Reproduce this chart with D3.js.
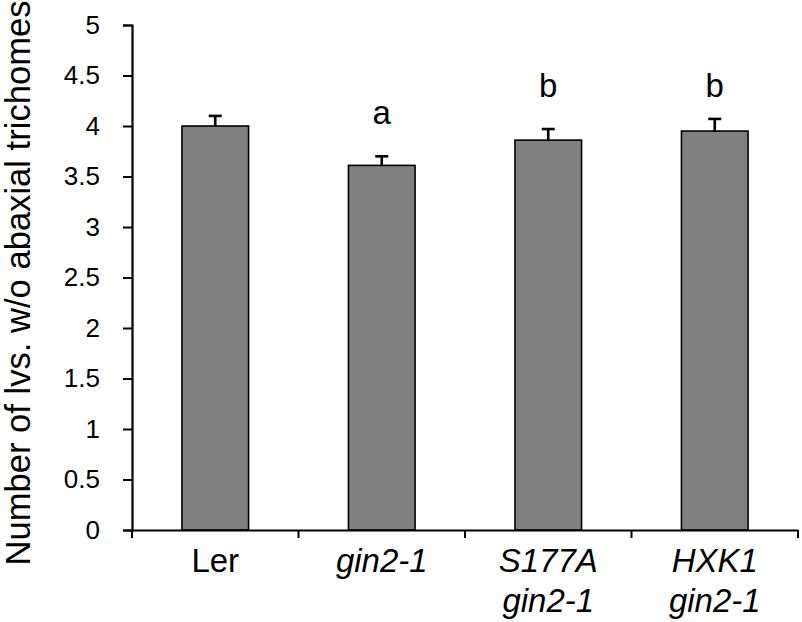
<!DOCTYPE html>
<html>
<head>
<meta charset="utf-8">
<script src="https://cdn.jsdelivr.net/npm/d3@7/dist/d3.min.js"></script>
<style>
  html, body { margin: 0; padding: 0; background: #fff; }
  svg { display: block; }
  text { font-family: "Liberation Sans", Arial, sans-serif; fill: #000; }
</style>
</head>
<body>
<script>
// ---- data ----
const categories = ["Ler", "gin2-1", "S177A gin2-1", "HXK1 gin2-1"];
const labelLines = [["Ler"], ["gin2-1"], ["S177A", "gin2-1"], ["HXK1", "gin2-1"]];
const labelItalic = [false, true, true, true];
const values = [4.00, 3.61, 3.86, 3.95];
const errors = [0.10, 0.09, 0.11, 0.12];
const letters = ["", "a", "b", "b"];
const letterY = [null, 4.02, 4.29, 4.29];
const yTicks = [0, 0.5, 1, 1.5, 2, 2.5, 3, 3.5, 4, 4.5, 5];
const yTitle = "Number of lvs. w/o abaxial trichomes";

// ---- layout ----
const W = 802, H = 622;
const mLeft = 132, mRight = 798, mTop = 25, mBottom = 530;

const svg = d3.select("body").append("svg").attr("width", W).attr("height", H);

const x = d3.scaleBand().domain(categories).range([mLeft, mRight])
  .paddingInner(0.6).paddingOuter(0.3);
const y = d3.scaleLinear().domain([0, 5]).range([mBottom, mTop]);

// y axis
const yAxis = d3.axisLeft(y).tickValues(yTicks).tickSize(9).tickPadding(23)
  .tickFormat(d => String(d));
const gy = svg.append("g").attr("transform", `translate(${mLeft},0)`).call(yAxis);
gy.select(".domain").attr("stroke", "#000").attr("stroke-width", 2.2);
gy.selectAll(".tick line").attr("stroke", "#000").attr("stroke-width", 2);
gy.selectAll(".tick text").attr("font-size", 26).attr("font-family", "Liberation Sans, Arial, sans-serif");

// bars
svg.append("g").selectAll("rect").data(categories).join("rect")
  .attr("x", d => x(d))
  .attr("y", (d, i) => y(values[i]))
  .attr("width", x.bandwidth())
  .attr("height", (d, i) => y(0) - y(values[i]))
  .attr("fill", "#808080")
  .attr("stroke", "#000")
  .attr("stroke-width", 1.6);

// error bars (upper only)
const eg = svg.append("g").attr("stroke", "#000").attr("stroke-width", 2.6);
categories.forEach((c, i) => {
  const cx = x(c) + x.bandwidth() / 2;
  eg.append("line").attr("x1", cx).attr("x2", cx)
    .attr("y1", y(values[i])).attr("y2", y(values[i] + errors[i]));
  eg.append("line").attr("x1", cx - 6.5).attr("x2", cx + 6.5)
    .attr("y1", y(values[i] + errors[i])).attr("y2", y(values[i] + errors[i]));
});

// significance letters
categories.forEach((c, i) => {
  if (!letters[i]) return;
  svg.append("text")
    .attr("x", x(c) + x.bandwidth() / 2)
    .attr("y", y(letterY[i]))
    .attr("text-anchor", "middle")
    .attr("font-size", 33)
    .text(letters[i]);
});

// x axis
const xAxis = d3.axisBottom(x).tickSize(0).tickFormat(() => "");
const gx = svg.append("g").attr("transform", `translate(0,${mBottom})`).call(xAxis);
gx.select(".domain").attr("stroke", "#000").attr("stroke-width", 2.2);
// boundary ticks
const step = x.step();
d3.range(categories.length + 1).forEach(i => {
  const bx = mLeft + i * step;
  gx.append("line").attr("x1", bx).attr("x2", bx).attr("y1", 0).attr("y2", 8)
    .attr("stroke", "#000").attr("stroke-width", 2);
});
// category labels
categories.forEach((c, i) => {
  const t = svg.append("text")
    .attr("x", x(c) + x.bandwidth() / 2)
    .attr("y", 572)
    .attr("text-anchor", "middle")
    .attr("font-size", 33)
    .attr("font-style", labelItalic[i] ? "italic" : "normal");
  labelLines[i].forEach((line, j) => {
    t.append("tspan").attr("x", x(c) + x.bandwidth() / 2)
      .attr("dy", j === 0 ? 0 : 40).text(line);
  });
});

// y title
svg.append("text")
  .attr("transform", `translate(30,${283}) rotate(-90)`)
  .attr("text-anchor", "middle")
  .attr("font-size", 34.6)
  .text(yTitle);
</script>
</body>
</html>
